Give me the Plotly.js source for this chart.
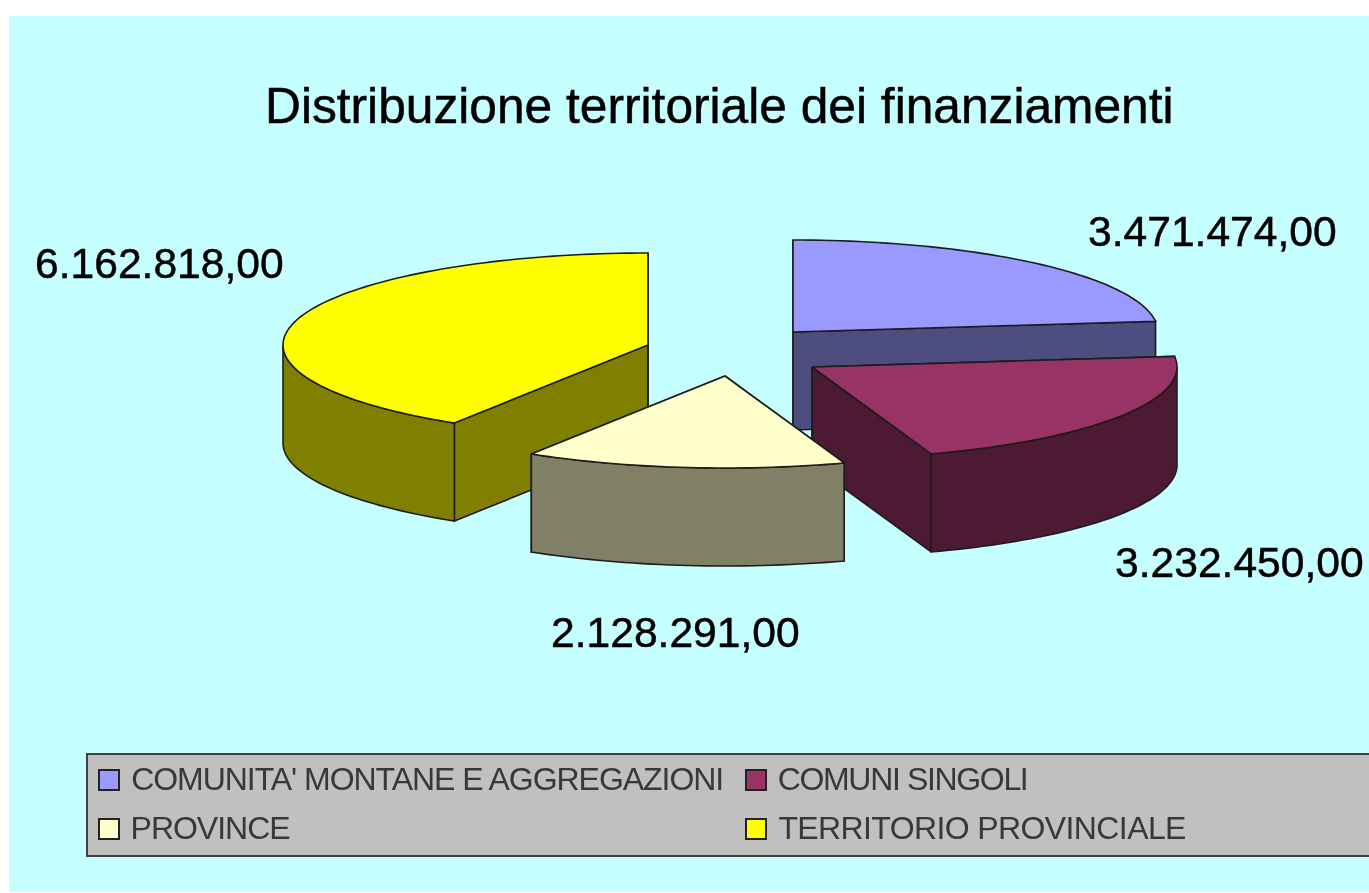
<!DOCTYPE html>
<html>
<head>
<meta charset="utf-8">
<script src="https://cdn.plot.ly/plotly-3.0.1.min.js"></script>
<style>
html,body{margin:0;padding:0;background:#fff;overflow:hidden}
#chart{width:1369px;height:893px;filter:blur(0.6px)}
</style>
</head>
<body>
<div id="chart"></div>
<script>
// Data
const categories = ["COMUNITA' MONTANE E AGGREGAZIONI", "COMUNI SINGOLI", "PROVINCE", "TERRITORIO PROVINCIALE"];
const values = [3471474, 3232450, 2128291, 6162818];
const chartTitle = "Distribuzione territoriale dei finanziamenti";

// Styling
const topColors = ["#9999FF", "#993366", "#FFFFCC", "#FFFF00"];
const wallColors = ["#4D4D80", "#4D1A33", "#808066", "#808000"];
const edge = "#1c1c1c";

// Exploded-pie layout (pixel frame): slice tips, ellipse radii, extrusion depth
const tips = [[793, 332], [812, 367], [725, 376], [648, 345]];
const rx = 365, ry = 92, depth = 98;
const drawOrder = [0, 3, 1, 2];
const labelPos = [[1212, 231], [1239, 562], [675, 632], [159, 263]];
// legend: swatch left, row centre, category index, text left, text width
const legendRows = [[99, 780, 0, 131, 593], [746, 780, 1, 777, 251], [99, 829, 2, 130, 160], [746, 829, 3, 778, 408]];

const fmt = v => String(v).replace(/\B(?=(\d{3})+$)/g, ".") + ",00";
const total = values.reduce((a, b) => a + b, 0);
const rad = d => d * Math.PI / 180;

let cum = 0;
const spans = values.map(v => { const s = cum; cum += v / total * 360; return [s, cum]; });

function point(tip, ang, dy) {
  return [tip[0] + rx * Math.sin(rad(ang)), tip[1] - ry * Math.cos(rad(ang)) + dy];
}
function arc(tip, a, b, dy) {
  const n = Math.max(2, Math.ceil(Math.abs(b - a) / 1.5));
  const out = [];
  for (let i = 0; i <= n; i++) out.push(point(tip, a + (b - a) * i / n, dy));
  return out;
}
function polyTrace(pts, fill, name) {
  const closed = pts.concat([pts[0]]);
  return {
    type: "scatter", mode: "lines",
    x: closed.map(p => p[0]), y: closed.map(p => p[1]),
    fill: "toself", fillcolor: fill,
    line: {color: edge, width: 1.6, simplify: false},
    name: name, hoverinfo: "name", showlegend: false
  };
}

const traces = [];
drawOrder.forEach(i => {
  const tip = tips[i], [a, b] = spans[i], name = categories[i];
  const base = [tip[0], tip[1] + depth];
  [a, b].forEach(ang => {
    const p = point(tip, ang, 0), q = point(tip, ang, depth);
    traces.push(polyTrace([tip, p, q, base], wallColors[i], name));
  });
  const va = Math.max(a, 90), vb = Math.min(b, 270);
  if (vb > va) {
    traces.push(polyTrace(arc(tip, va, vb, 0).concat(arc(tip, vb, va, depth)), wallColors[i], name));
  }
  traces.push(polyTrace([tip].concat(arc(tip, a, b, 0)), topColors[i], name));
});

const annotations = [];
const fontFam = "Liberation Sans, Arial, sans-serif";
annotations.push({xref: "x", yref: "y", x: 719, y: 106, text: chartTitle, showarrow: false,
  xanchor: "center", yanchor: "middle", font: {family: fontFam, size: 49.7, color: "#000"}});
values.forEach((v, i) => annotations.push({xref: "x", yref: "y", x: labelPos[i][0], y: labelPos[i][1],
  text: fmt(v), showarrow: false, xanchor: "center", yanchor: "middle",
  font: {family: fontFam, size: 42.6, color: "#000"}}));

const shapes = [
  {type: "rect", xref: "x", yref: "y", x0: 9, x1: 1369, y0: 16, y1: 892, fillcolor: "#C6FFFF", line: {width: 0}, layer: "below"},
  {type: "rect", xref: "x", yref: "y", x0: 87, x1: 1375, y0: 754, y1: 856, fillcolor: "#C0C0C0", line: {color: "#404040", width: 2}, layer: "below"}
];
legendRows.forEach(([x, y, i, tx, tw]) => {
  shapes.push({type: "rect", xref: "x", yref: "y", x0: x, x1: x + 20, y0: y - 10, y1: y + 10,
    fillcolor: topColors[i], line: {color: "#222", width: 2}, layer: "below"});
  annotations.push({xref: "x", yref: "y", x: tx + tw / 2, y: y - 1, text: categories[i], showarrow: false,
    xanchor: "center", yanchor: "middle", font: {family: fontFam, size: 32, color: "#383838"}});
});

const layout = {
  width: 1369, height: 893, margin: {l: 0, r: 0, t: 0, b: 0},
  paper_bgcolor: "#fff", plot_bgcolor: "rgba(0,0,0,0)", showlegend: false,
  xaxis: {range: [0, 1369], visible: false, fixedrange: true},
  yaxis: {range: [893, 0], visible: false, fixedrange: true},
  shapes, annotations
};
Plotly.newPlot("chart", traces, layout, {displayModeBar: false, staticPlot: true}).then(() => {
  document.querySelectorAll(".annotation-text").forEach(t => {
    const idx = categories.indexOf(t.textContent);
    if (idx >= 0) {
      const row = legendRows.find(r => r[2] === idx);
      t.setAttribute("textLength", row[4]);
      t.setAttribute("lengthAdjust", "spacing");
    } else {
      t.style.stroke = "#000";
      t.style.strokeWidth = "0.5px";
    }
  });
});
</script>
</body>
</html>
